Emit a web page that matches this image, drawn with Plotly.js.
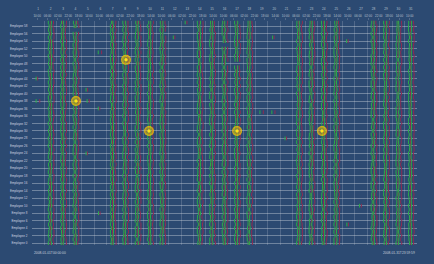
<!DOCTYPE html>
<html><head><meta charset="utf-8">
<script src="https://cdn.plot.ly/plotly-3.0.1.min.js"></script>
<style>html,body{margin:0;padding:0;background:#2c4a72;}#chart{width:434px;height:264px;}</style>
</head><body><div id="chart"></div>
<script>
// Rows, top to bottom
const employees = ['Employee 59','Employee 58','Employee 57','Employee 56','Employee 55','Employee 54','Employee 53','Employee 52','Employee 51','Employee 50',
'Employee 49','Employee 48','Employee 47','Employee 46','Employee 45','Employee 44','Employee 43','Employee 42','Employee 41','Employee 40',
'Employee 39','Employee 38','Employee 37','Employee 36','Employee 35','Employee 34','Employee 33','Employee 32','Employee 31','Employee 30',
'Employee 29','Employee 28','Employee 27','Employee 26','Employee 25','Employee 24','Employee 23','Employee 22','Employee 21','Employee 20',
'Employee 19','Employee 18','Employee 17','Employee 16','Employee 15','Employee 14','Employee 13','Employee 12','Employee 11','Employee 10',
'Employee 9','Employee 8','Employee 7','Employee 6','Employee 5','Employee 4','Employee 3','Employee 2','Employee 1','Employee 0'];
const monthDays = [1,2,3,4,5,6,7,8,9,10,11,12,13,14,15,16,17,18,19,20,21,22,23,24,25,26,27,28,29,30,31];
// One token per day: check-in, check-out, check-in, check-out (half-hour codes from 06:00, '-' = none)
const schedules = [
'---- 3cfn 6bep 4dfl ---- ---- 7bdo 3cen 5bfl 7dfp 4bem ---- 4b-- 3dfp 6cel 5bdo 3df- 7cfm ---- ---- ---- 4bdp 7cfn 3beo 6dfl ---- ---- 5cel 3bfp 7bdo 4cfm',
'---- 6bel 3dfo 7cep ---- ---- 3bfm 5dfn 7beo 3cfl 6bep ---- ---- 4bdp 7cfl 3ddm 5bdn 7bfo ---- ---- ---- 3cdl 6bfp 4bfm 7den ---- ---- 3bep 5cfl 7bep 3dfo',
'---- 4beo 7cfl ---- ---- ---- 5bdp 3dfm 6cep 7bfl 3bfn ---- ---- 7cen 4bdl 3bfp 6dfo 5cep ---- ---- ---- 7bdm 3bfn 5cel 4dfp ---- ---- 7bfo 3cdp 6bel 3bfn',
'---- 7cfp 5bdl 3bfo ---- ---- 3cem 7bfp 4dfl 6beo 5ce- ---- ---- 3bfn 7cfp 3bdl 7cep 4bfm ---- ---- ---- 6bfo 5del 3cfp 7ben ---- ---- 3dfm 4beo 7cfl 5bdp',
'---- 3bdp 6cfm 5bel ---- ---- 7dfo 4bel 3cfp 7bdn 6bep 6c-- ---- 3cfm 5bfo 7bdl 4dep 3cfn ---- 6c-- ---- 7bdp 3bfl 6cem 4bfo ---- ---- 7cep 3bdn 5dfl 7bfp',
'---- 7bfl 3bep 7cfn ---- ---- 6bdl 3cfp 5bdo 4dfm 7cfp ---- ---- 5bel 3dfn 7bfp 3cel 6bdo ---- ---- ---- 3cfp 7bfm 4bdl 5cep 4a-- ---- 3bfn 7cdo 6bfl 3dep',
'---- 5dfm 7beo 3cfl ---- ---- 4bfp 6cdn 7bep 3dfl 5bem ---- ---- 7cfo 3bel ---- 4bfp 6cen ---- ---- ---- 7dfl 5bdo 3cfp 7bel ---- ---- 6bfp 4cdm 3beo 7cfn',
'---- 3cen 5bfp 6bfl ---- ---- 7dfo 3cep 4bdl 7bfm 3cfp ---- ---- 6bdn 5dfl 3bfo 7cdp 4bel ---- ---- ---- 3bem 7cfo 6bdp 3dfl ---- ---- 7bfn 5bdp 4ceo 6dfl',
'---- 7beo 4dfl 3bfp ---- 4h-- 6cen 7bdl 3dfp 5bfo 4cdm ---- ---- 3bfp 7cel 6bdn 7dfo 3bep ---- ---- ---- 5cfl 4bfp 7ben 3dem ---- ---- 7cfp 3bdo 6bfl 5cen',
'---- 3bfl 7cdp 5beo ---- ---- 3dfp 7bem 6cfl 4bdn 7dfp ---- ---- 3cfo 4bdp 5bfl 3cem 7bfo ---- ---- ---- 6bdl 3cfp 7ben 4dfp ---- ---- 3beo 7cfl 5bfm 6cep',
'---- 6cfp 3ben 7bdl ---- ---- 4bfp 5cfm 3bdo 7ddl 6bfn ---- ---- 7bdp 3cfl 4bfp 5den 3cfo ---- ---- ---- 7bep 6bfm 3cdl 7bfo ---- ---- 4bfn 3del 7cdp 5bfm',
'---- 4bfl 7bfp 3ceo ---- ---- 5dfn 3bdp 7bfl 6cem 3bfp ---- ---- 7ceo 5bdl 3cf- ---- 4bfn ---- ---- ---- 7cdp 5bfl 3bfp 6ceo ---- ---- 3bdm 7cfl 4bfp 7den',
'---- 7dem 3bfo 6bfp ---- ---- 7cdl 4bfp 3bfn 5ceo 7bdl ---- ---- 3bfp 6cfm 7bdo 3dfl 5bep ---- ---- ---- 4bfn 7cdp 6bfl 3ceo ---- ---- 7bfm 3bfp 5cel 7bdp',
'---- 3bdp 5cfl 7bel ---- ---- 3bfo 7cep 4bfm 6cdp 3dfn ---- ---- 5bfl 7bdp 3cfo 6ben 4cdl ---- ---- ---- 3bfp 5bel 7cfo 7bdm ---- ---- 3cfp 6bdn 4bfl 3ceo',
'---- 5bfn 3bfp 4cdl ---- ---- 7bep 3dfl 7bfo 4cem 6bep ---- ---- 3cdn 7bfp 5dfl 3bdm 7cfo ---- ---- ---- 6bfp 3ben 4cfl 7bdp ---- ---- 5cel 3bfo 7bfn 6dep',
'4a-- 7cfo 6bdl 3bfp ---- ---- 3cem 5bfn 7ceo 3bdp 7bfl ---- ---- 6bfp 4cem 3bdl 7bfp 5cfn ---- ---- ---- 3ceo 7bfl 6bdp 3dfm ---- ---- 7bep 4cfl 3bdn 7cfo',
'---- 3cep 7bfm 6bfp ---- ---- 5bdl 7cfo 3bel 7dfp 4ben ---- ---- 3bfo 6cfl 7bdp 4cem 3bfl ---- ---- ---- 5dfp 3bfn 7cel 6bdp ---- ---- 3bfm 7ceo 4bfp 3bdl',
'---- 6bfn 4ceo 3bdl ---- ---- 7bfp 3bem 5cfp 6bdl 3dfp ---- ---- 7bfm 4cdo 3bfl 7bep 6cfn ---- ---- ---- 4bdl 3cfo 7bfp 5ben ---- ---- 3dfl 7cep 3bfm 6bdo',
'---- 4dfl 7bfp 5cem 5b-- ---- 3beo 6bfl 3cdp 7bfn 5bel ---- ---- 4cfp 7bdm 6bfo 3cel 3bfp ---- ---- ---- 7ceo 6bdl 3bfn 4cfp ---- ---- 7bem 5bdp 3cfl 7dfo',
'---- 7bem 3cdp 3bfo ---- ---- 6cfl 4bdp 7bfn 3cel 7bfp ---- ---- 5bdo 3cfm 7bel 4bfp 6cdn ---- ---- ---- 3bfl 7bep 5cfo 3bdm ---- ---- 4cfp 6bdl 7beo 3bfn',
'---- 3bfp 5bfl 7cen ---- ---- 4dfp 7cfm 3beo 6bdl 4cfp ---- ---- 7bel 3bfp 5cdn 7bfo 3bep ---- ---- ---- 6cfm 4bdp 3bfl 7cen ---- ---- 3bfo 5cfp 7bdl 4bem',
'4i-- 5cdp 3bfm 7bfo 9h-- ---- 3bep 6cfl 4bdn 7bfp 3cem ---- ---- 6bfl 7cdp 3bfo 5ddm 4bdl ---- ---- ---- 7bfp 3cfn 6bel 3cdo ---- ---- 7bfp 4bfm 5cel 3bdp',
'---- 7bfl 4cfp 6ben ---- ---- 7bdm 3bfo 5cel 3bfp 7cdn ---- ---- 4beo 3cfl 6bdp 3bfm 7cep ---- ---- ---- 5bfo 7cdl 3bfp 6bem ---- ---- 4cfn 3bdo 7bfl 5cep',
'---- 3cel 7bdo 4bfp ---- 4a-- 7bfn 5bdl 6cfp 3beo 7bfl ---- ---- 3cdp 5bfm 4bfo 7cel 3bdp ---- ---- ---- 7cfl 6bep 3bfn 4cdo ---- ---- 5bfl 7cep 3bfm 6bdp',
'---- 6bfo 3bem 7cfp ---- ---- 3del 7bfp 4bfn 5cdl 6bep ---- ---- 3cfm 7bfl 7bdo 3cfp 5ben 5i-- 3f-- ---- 4bfp 3ceo 7bdl 6bfp ---- ---- 3cem 7bfl 4bdp 5cfn',
'---- 5bep 7cfl 3bdo ---- ---- 6cfm 3bdo 7bfl 4cep 5bfn ---- ---- 7bdl 4cfp 3beo 6bfm 7cdl ---- ---- ---- 3bfp 5cfn 6bdo 7bel ---- ---- 3cfp 4bdm 3bfp 7ceo',
'---- 7cfn 3bdl 5bfp ---- ---- 3beo 7cdp 6bfl 3bfm 4cep ---- ---- 7bfl 3bdn 5cfo 7bep 6bfl ---- ---- ---- 4cdm 3bfp 7bfl 3ceo ---- ---- 7bdn 6bfp 5cel 3bfp',
'---- 3bdl 6cfp 7bfn ---- ---- 4cfp 3bem 7bfo 5cdl 3bfp ---- ---- 6cep 3bfm 4bdl 7cfo 7ben ---- ---- ---- 3bfl 5bdp 4cfm 7bep ---- ---- 6bfo 3cdl 7bep 3bfn',
'---- 7dfl 4bfo 3cep ---- ---- 7bfp 6cdl 3bfn 7beo 5cfl ---- ---- 3bdp 7dfm 6bfp 3cdl 4bfo ---- ---- ---- 7cen 7bfl 5bdp 3cfm ---- ---- 4beo 3bfp 6cdl 7bfp',
'---- 4ben 3cfp 7bdl ---- ---- 5bfo 7bel 3cdp 6bfm 7bfo ---- ---- 3cel 6bdp 3bfn 4cfl 7bep ---- ---- ---- 3bdo 7cfl 3bfp 5ben ---- ---- 7cdl 6bfo 4bfm 3cep',
'---- 7bfp 5bdm 6cfl ---- ---- 3beo 7bdp 5cfl 4bfn 3beo ---- ---- 7cdl 3bfp 7bfm 5cep 6bdl ---- ---- ---- 3bfo 4cem 7bfl 7bdp ---- ---- 3cfn 5bep 3bfl 6cdo',
'---- 3cfm 7bfo 4bel ---- ---- 6dfp 3bfl 7ben 3cdp 5bfp ---- ---- 4bfm 7cel 3bfo 6bdp 3cfn ---- ---- 6c-- 7bem 3cfp 5bdl 7bfp ---- ---- 6cen 3bfl 7bdp 4cfo',
'---- 6beo 3bfl 7cdp ---- ---- 7bfn 4cep 3bfl 7bdm 5cfp ---- ---- 3beo 5bfp 7cfl 4bdn 7bem ---- ---- ---- 3cfp 6bfl 3bdo 5cem ---- ---- 7bfl 4cfp 6bdn 3beo',
'---- 3dfl 6cep 5bfn ---- ---- 3bdo 7cfm 7bel 3cfp 6bfn ---- ---- 5cdl 3bfp 4bfo 7cem 3bdp ---- ---- ---- 7bfl 4cfo 6bep 3cdm ---- ---- 3bfp 7bfl 5cel 7bdo',
'---- 7bfp 4bdl 3cfo ---- ---- 6bem 5bfp 3cdl 7bfp 4cen ---- ---- 7bfo 6cdm 3bfp 3bel 5cfp ---- ---- ---- 4bdo 7bfm 7cfl 3bep ---- ---- 6bdn 3cfo 5bfl 7cep',
'---- 5cfl 7bdp 3bfm 5a-- ---- 4bfo 3cep 6bdl 7bfn 3cfp ---- ---- 7bel 4bdp 5cfm 3bfo 6cel ---- ---- ---- 7bdp 3bfn 4cfl 7beo ---- ---- 3bdp 5cfl 6bfp 3bem',
'---- 3bep 4cfn 7bdl ---- ---- 7cfp 3bdl 5bfo 3cem 7bfp ---- ---- 6bdn 3cfl 7bep 4bfl 3cdp ---- ---- ---- 5bfm 7cel 3bfo 6bdp ---- ---- 7bfn 3cep 4bfl 5cdo',
'---- 7bdo 3bfl 6cfp ---- ---- 5bel 7bfp 3cdn 4bfp 6bel ---- ---- 3cfo 7bdm 5bfp 6cel 4bfp ---- ---- ---- 3bdn 6cfl 7beo 3bfp ---- ---- 7cdm 4bfp 3ben 6cfl',
'---- 4cfp 7bfl 3beo ---- ---- 3bdp 6bfn 7cfl 5bdo 3bep ---- ---- 7cfm 6bdl 3bfp 7ceo 5bfl ---- ---- ---- 4bdp 3bfm 6cfp 7bel ---- ---- 5bdo 7cfp 3bfl 4cen',
'---- 6bfm 3cdp 5bfp ---- ---- 7cel 4bfo 3bfp 7cdl 5bfn ---- ---- 3bfp 4cem 7bdl 3bfo 7cep ---- ---- ---- 6bfl 5bdo 4cfp 3ben ---- ---- 3cfl 7bdp 7bfo 6bem',
'---- 3bel 5cfo 7bdp ---- ---- 3bfn 6cdp 4bfl 7ceo 3bdm ---- ---- 5bfp 7cfl 3bep 6bdn 4cfl ---- ---- ---- 7bfp 3cdl 5bfo 7bep ---- ---- 3cfm 6ben 3bdp 7cfl',
'---- 7cdp 6bfl 3bfn ---- ---- 5beo 3cfl 7bdp 3bfm 6ceo ---- ---- 4bfl 3bdp 7cfn 5beo 7bfl ---- ---- ---- 3cfp 4bem 7bdl 3cfo ---- ---- 6bfp 5bel 4cdp 7bfm',
'---- 5beo 3bfp 7cdl ---- ---- 4cfp 7bel 6bfn 3cep 7bdl ---- ---- 3bfo 5cfp 4bdm 7bel 3cfp ---- ---- ---- 6beo 7bfl 3cfp 5bdn ---- ---- 7cel 3bfo 6bfp 4cdl',
'---- 3bfl 7ceo 4bdp ---- ---- 7bfl 3bdp 5cfm 6bep 3bfo ---- ---- 7cdl 3bfn 6bep 3cfl 7bdp ---- ---- ---- 5bfm 4cdp 7bfo 3bel ---- ---- 3cfp 7bdl 4bfn 6ceo',
'---- 7cfp 4bdm 6bfl ---- ---- 3ceo 5bfp 3bdl 7cfn 4bep ---- ---- 6bfm 7cdo 3bfl 7bep 5cfn ---- ---- ---- 3bdl 6bfp 7ceo 4bfp ---- ---- 3bdm 7cfl 5beo 3bfp',
'---- 4bfn 7bep 3cdl ---- ---- 6bdp 7cfl 3bfp 4beo 7cdm ---- ---- 3bfp 6bel 5cfo 3bdl 7bfp ---- ---- ---- 7cen 3bfl 6bdp 5cfl ---- ---- 7beo 3bfm 7cdp 4bfl',
'---- 6cdo 3bfl 7bfp ---- ---- 3bem 4cfp 7bdl 5bfp 3ceo ---- ---- 7bdl 4cfp 3bfm 5beo 6cdl ---- ---- ---- 3bfp 7bdn 4cfl 6beo ---- ---- 5bfl 3cdp 7bfn 3beo',
'---- 3bfp 6cfm 4bel ---- ---- 7dfo 3bel 7cfp 3bdn 6bfp ---- ---- 4cel 7bfp 7bdo 3cfm 3bep ---- ---- ---- 5bfl 7cdo 3bfp 7bel ---- ---- 4cfp 6bem 3bdp 5cfl',
'---- 7bem 3cdp 5bfo ---- ---- 4bfl 6beo 3cfp 7bdl 5bfn ---- ---- 3cdp 7bfl 6bel 4cfp 3bdo ---- ---- ---- 7bfm 5cdp 3bfl 3beo ---- ---- 7cdn 4bfp 6bfl 7cem',
'---- 5cfl 7bep 3bdn ---- ---- 3cfp 7bfm 6bdl 4cfp 7beo ---- ---- 5bfn 3bdp 3cel 7bfo 6bfl ---- ---- ---- 4cep 3bdm 5bfo 7cfl ---- 6d-- 3bep 7bdl 4cfp 3bfn',
'---- 3bdp 4bfl 7cfo ---- ---- 6ben 3cdp 5bfl 7beo 3cfm ---- ---- 7bdp 4cfl 5bfp 3bel 7cdp ---- ---- ---- 6bfn 3bfo 7cdl 4bep ---- ---- 3cfm 5bdp 7bfl 6ceo',
'---- 6bfo 7cem 3bdp ---- 5b-- 3cfl 7bfp 4bdn 3cfp 6bel ---- ---- 7cfo 3bdm 7bfp 5cel 3bfn ---- ---- ---- 4bdp 6cfl 3bep 7bfo ---- ---- 7cdl 3bfp 5ben 3cfm',
'---- 3cep 5bfl 7bdo ---- ---- 7bfl 3bdp 6cfn 3bem 7bfp ---- ---- 4cdl 6bfo 3bfp 7cel 4bdo ---- ---- ---- 3bfp 7cdm 5bfl 3beo ---- ---- 6cfp 4bdp 7bfl 7cen',
'---- 7bfl 3bdo 4cfp ---- ---- 5bem 7cfp 3bdl 6bfo 4cfn ---- ---- 3bep 5cdl 7bfp 3bfn 7cdo ---- ---- ---- 5bfl 4cfp 3bdm 6beo ---- ---- 7bfp 3cel 5bfp 7bdl',
'---- 4bdn 7cfp 6bel ---- ---- 3cfo 5bel 7bdp 4cfm 3bfo ---- ---- 7ben 3cfp 4bdl 6bfp 7cem ---- ---- ---- 3bfo 5bdp 7cfl 3ben 5b-- ---- 6bfp 7cdl 3bfo 4bem',
'---- 7cfl 3bfp 5bdp ---- ---- 7bfo 4cel 3bfp 6bdn 7cfl ---- ---- 3bfo 7bdp 6cem 3bfl 5bfp ---- ---- ---- 7cdp 3bfn 4bfl 7ceo ---- ---- 3bdm 6bfp 7cfl 5beo',
'---- 5bep 6bfl 3cdo ---- ---- 3bfn 7cdp 5bfl 7beo 6cfm ---- ---- 3bdp 4cfl 3bfo 7bep 7cdl ---- ---- ---- 6bfp 3ceo 5bfp 3bdl ---- ---- 7cfn 4bep 7bdl 3cfp',
'---- 3cfp 7bdl 7bfp ---- ---- 4ceo 6bdl 3bfp 5cfn 3bdo ---- ---- 6bem 7bfp 5cdl 4bfp 3bel ---- ---- ---- 7cfp 6bdm 3bfo 7cep ---- ---- 5bfl 3bdo 6cfp 4bel',
'---- 6bdl 4cfo 3bfp ---- ---- 7bep 3bfm 7cdo 3bfl 5cep ---- ---- 7bfn 3bdl 6cfp 3bel 4cfo ---- ---- ---- 5bdp 7bfl 4cen 3bfp ---- ---- 3bfo 7cdp 6bel 5bfm',
'---- 3bfo 5cdp 7bfl ---- ---- 6cep 4bdn 3bfl 7cfp 3beo ---- ---- 5bdl 3cfp 7bfn 6cel 7bdo ---- ---- ---- 3bfm 4cfp 6bdl 3beo ---- ---- 7bfp 5cel 3bdp 7cfn'
];
const highlightEmployees = ['Employee 49','Employee 38','Employee 30','Employee 30','Employee 30'];
const highlightTimes = ['2008-01-08 13:40','2008-01-04 13:00','2008-01-10 10:05','2008-01-17 12:15','2008-01-24 08:25'];
const rangeLabels = ['2008-01-01T00:00:00','2008-01-31T23:59:59'];
const xRange = ['2008-01-01 00:00:00','2008-02-01 00:00:00'];

const codeChars = '0123456789abcdefghijklmnopqrstuvwxyz';
function pad(n){return (n<10?'0':'')+n;}
function codeToTime(day,ch){const m=360+codeChars.indexOf(ch)*30;return '2008-01-'+pad(day)+' '+pad(Math.floor(m/60))+':'+pad(m%60)+':00';}

const inX=[],inY=[],outX=[],outY=[];
schedules.forEach((s,i)=>{
  s.trim().split(/\s+/).forEach((tok,k)=>{
    const day=monthDays[k]; if(day===undefined) return;
    for(let p=0;p<tok.length;p++){
      const c=tok[p]; if(c==='-') continue;
      const t=codeToTime(day,c);
      if(p%2===0){inX.push(t);inY.push(employees[i]);} else {outX.push(t);outY.push(employees[i]);}
    }
  });
});

const green='#2aac48', red='#8e2b52';
const traces=[
 {type:'scatter',mode:'markers',x:outX,y:outY,hoverinfo:'skip',
  marker:{symbol:'line-ns-open',size:2.7,color:red,line:{width:1,color:red}}},
 {type:'scatter',mode:'markers',x:inX,y:inY,hoverinfo:'skip',
  marker:{symbol:'line-ns-open',size:2.7,color:green,line:{width:1,color:green}}},
 {type:'scatter',mode:'markers',x:highlightTimes,y:highlightEmployees,xaxis:'x2',yaxis:'y',hoverinfo:'skip',
  marker:{size:10,color:'rgba(255,205,0,0.85)',gradient:{type:'radial',color:'rgba(255,160,0,0)'},line:{width:0}}},
 {type:'scatter',mode:'markers',x:highlightTimes,y:highlightEmployees,xaxis:'x2',yaxis:'y',hoverinfo:'skip',
  marker:{size:3.5,color:'#ffe21a',line:{width:0}}}
];

const bg='#2c4a72';
const layout={
 width:434,height:264,paper_bgcolor:bg,plot_bgcolor:bg,showlegend:false,
 margin:{l:32,r:17,t:0,b:18.5},
 font:{family:'Liberation Sans, Arial, sans-serif',size:3,color:'#c7cfdb'},
 xaxis:{type:'date',side:'top',anchor:'y',range:xRange,tick0:'2008-01-01 10:00:00',dtick:72000000,tickformat:'%H:%M',
   showgrid:false,zeroline:false,showline:false,ticks:'outside',ticklen:1.5,tickwidth:0.5,tickcolor:'rgba(200,205,215,0.5)',
   tickfont:{size:3,color:'#b9c2cf'}},
 xaxis2:{type:'date',overlaying:'x',side:'top',anchor:'free',position:0.955,range:xRange,tick0:'2008-01-01',dtick:86400000,
   tickformat:'%-d',ticklabelmode:'period',showgrid:true,gridcolor:'rgba(210,215,225,0.22)',gridwidth:1,zeroline:false,showline:false,ticks:'',
   tickfont:{size:3.2,color:'#b9c2cf'}},
 yaxis:{domain:[0,0.916],type:'category',categoryorder:'array',categoryarray:employees.slice().reverse(),range:[-0.5,59.5],autorange:false,
   showgrid:true,gridcolor:'rgba(205,212,222,0.42)',gridwidth:1,zeroline:false,showline:false,
   ticks:'outside',ticklen:3,tickcolor:'rgba(0,0,0,0)',tickfont:{size:3,color:'#cfd6e0'}},
 annotations:[
  {xref:'paper',yref:'paper',x:0,y:0,xanchor:'left',yanchor:'top',yshift:-3.5,showarrow:false,text:rangeLabels[0],font:{size:3.3,color:'#c7cfdb'}},
  {xref:'paper',yref:'paper',x:1,y:0,xanchor:'right',yanchor:'top',yshift:-3.5,showarrow:false,text:rangeLabels[1],font:{size:3.3,color:'#c7cfdb'}}
 ]
};
Plotly.newPlot('chart',traces,layout,{staticPlot:true,displayModeBar:false});
</script></body></html>
